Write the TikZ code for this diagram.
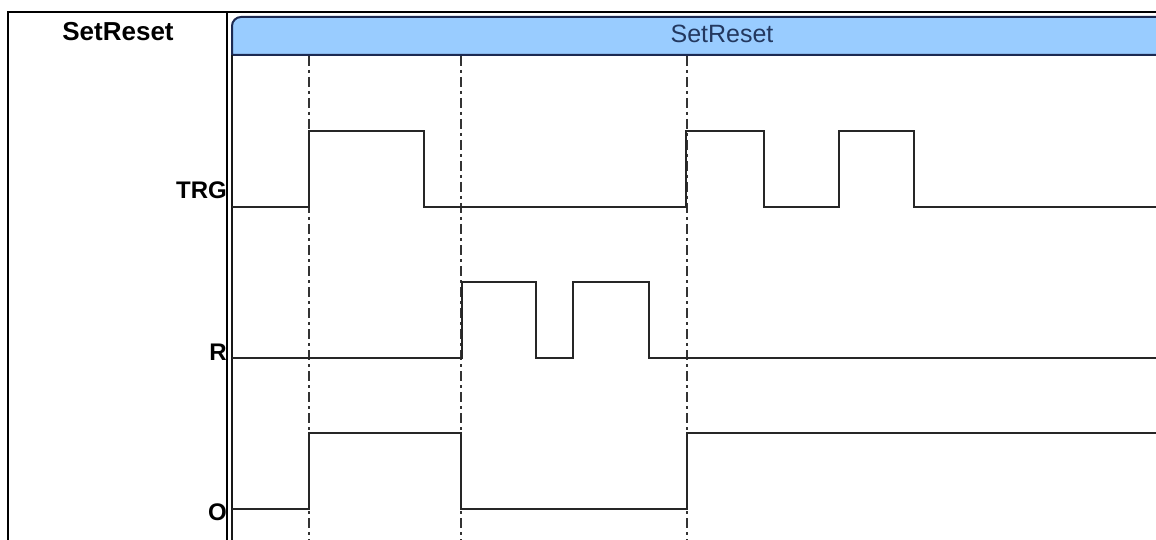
\documentclass[tikz,border=0pt]{standalone}
\usepackage{fontspec}
\setmainfont{Liberation Sans}
\usepackage{tikz}

\definecolor{barblue}{HTML}{99CCFF}
\definecolor{barnavy}{HTML}{1C2A52}
\definecolor{headtext}{HTML}{23385F}

\begin{document}
\begin{tikzpicture}[x=1pt, y=-1pt, every node/.style={font=\fontsize{24}{28}\selectfont\bfseries, inner sep=0pt},
		sigline/.style={line width=1.5pt, black!85},
		guideline/.style={line width=1.4pt, black!80, dash pattern=on 10pt off 4pt on 3pt off 4pt},
		frameline/.style={line width=2pt, black}]
	\useasboundingbox (0,0) rectangle (1156,540);
	\fill[white] (0,0) rectangle (1156,540);
	\draw[frameline] (8,560) -- (8,12) -- (1170,12);
	\draw[frameline] (227,12) -- (227,560);
	\filldraw[fill=barblue, draw=barnavy, line width=2pt] (232,55) [rounded corners=9pt] -- (232,17) -- (1200,17) [sharp corners] -- (1200,55) -- cycle;
	\draw[line width=1.8pt, black!90] (232,55) -- (232,560);
	\node[font=\fontsize{26}{30}\selectfont\bfseries] (title) at (118,32) {SetReset};
	\node[headtext, font=\fontsize{25}{30}\selectfont] (head) at (722,34) {SetReset};
	\foreach \x in {309,461,687} {\draw[guideline] (\x,56) -- (\x,540);}
	\node[anchor=base east] (trg) at (227,199) {TRG};
	\node[anchor=base east] (r) at (227,360) {R};
	\node[anchor=base east] (o) at (227,520) {O};
	\draw[sigline] (232,207) -- (309,207) -- (309,131) -- (424,131) -- (424,207) -- (686,207) -- (686,131) -- (764,131) -- (764,207) -- (839,207) -- (839,131) -- (914,131) -- (914,207) -- (1156,207);
	\draw[sigline] (232,358) -- (462,358) -- (462,282) -- (536,282) -- (536,358) -- (573,358) -- (573,282) -- (649,282) -- (649,358) -- (1156,358);
	\draw[sigline] (232,509) -- (309,509) -- (309,433) -- (461,433) -- (461,509) -- (687,509) -- (687,433) -- (1156,433);
\end{tikzpicture}
\end{document}
